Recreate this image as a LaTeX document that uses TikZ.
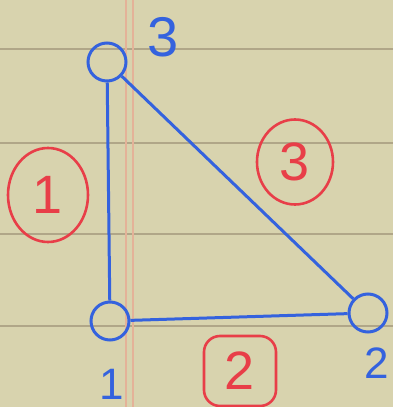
\documentclass[tikz,border=0pt]{standalone}
\usepackage{fontspec}
\setmainfont{Liberation Sans}
\definecolor{paper}{RGB}{216,211,174}
\definecolor{ruleline}{RGB}{176,166,136}
\definecolor{marginline}{RGB}{228,178,152}
\definecolor{ink}{RGB}{52,98,222}
\definecolor{redink}{RGB}{232,62,72}
\usetikzlibrary{shapes.geometric}

\tikzset{
  vertex/.style={draw=ink, circle, line width=3pt, minimum size=38pt, inner sep=0pt},
  vlabel/.style={text=ink, inner sep=0pt, font=\fontsize{44}{44}\selectfont},
  elabel/.style={draw=redink, text=redink, line width=2.6pt, inner sep=0pt, font=\fontsize{54}{54}\selectfont},
  edge/.style={draw=ink, line width=3pt}
}

\begin{document}
\begin{tikzpicture}[x=1pt, y=-1pt]
  % lined paper
  \fill[paper] (0,0) rectangle (393,407);
  \useasboundingbox (0,0) rectangle (393,407);
  \foreach \y in {49,143,234,326}
    \draw[ruleline, line width=1.2pt] (0,\y) -- (393,\y);
  \foreach \x in {126,133}
    \draw[marginline, line width=1.5pt] (\x,0) -- (\x,407);

  % vertices
  \node[vertex] (n3) at (107,62) {};
  \node[vertex] (n1) at (110,321) {};
  \node[vertex] (n2) at (368,313) {};
  \node[vlabel, font=\fontsize{56}{56}\selectfont] (t3) at (163,37) {3};
  \node[vlabel] (t1) at (112,384) {1};
  \node[vlabel] (t2) at (377,363) {2};

  % edges
  \draw[edge] (n3) -- (n1);
  \draw[edge] (n3) -- (n2);
  \draw[edge] (n1) -- (n2);

  % edge numbers
  \node[elabel, ellipse, minimum width=80pt, minimum height=94pt] (e1) at (48,195) {1};
  \node[elabel, ellipse, minimum width=76pt, minimum height=85pt] (e3) at (295,162) {3};
  \node[elabel, rectangle, rounded corners=16pt, minimum width=72pt, minimum height=70pt] (e2) at (240,371) {2};
\end{tikzpicture}
\end{document}
